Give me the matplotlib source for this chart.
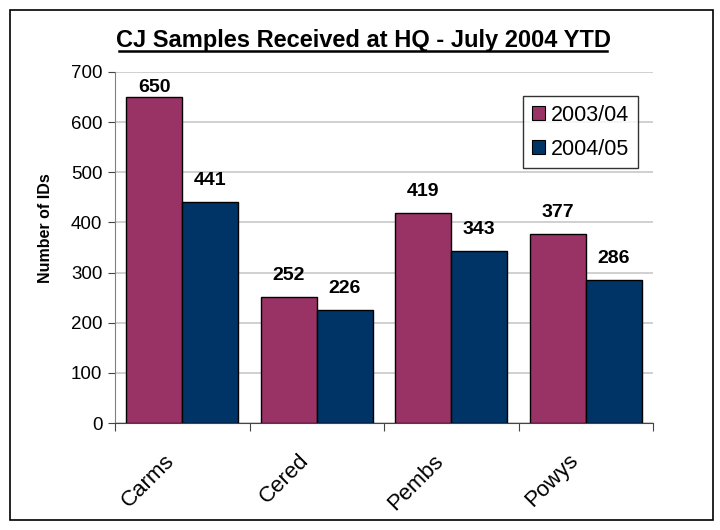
import matplotlib
matplotlib.use("Agg")
import matplotlib.pyplot as plt
from matplotlib.patches import Rectangle
import numpy as np

plt.rcParams['font.family'] = ['Liberation Sans', 'DejaVu Sans']

categories = ["Carms", "Cered", "Pembs", "Powys"]
series_names = ["2003/04", "2004/05"]
values_0304 = [650, 252, 419, 377]
values_0405 = [441, 226, 343, 286]
yticks = [0, 100, 200, 300, 400, 500, 600, 700]
colors = ["#993366", "#003366"]

W, H = 720, 530
fig = plt.figure(figsize=(7.2, 5.3), dpi=100)
fig.add_artist(Rectangle((10/W, 10/H), 703/W, 510/H, transform=fig.transFigure,
                         fill=False, edgecolor="black", linewidth=1.2))
L, R, T, B = 115, 653, 72, 423
ax = fig.add_axes([L/W, 1-B/H, (R-L)/W, (B-T)/H])

x = np.arange(len(categories))
w = 0.415
b1 = ax.bar(x - w/2, values_0304, w, color=colors[0], edgecolor="black", linewidth=1, label=series_names[0], zorder=3)
b2 = ax.bar(x + w/2, values_0405, w, color=colors[1], edgecolor="black", linewidth=1, label=series_names[1], zorder=3)
for bars in (b1, b2):
    for r in bars:
        v = r.get_height()
        ax.text(r.get_x() + r.get_width()/2, min(v + 34, 660), f"{int(v)}",
                ha="center", va="baseline", fontsize=14, fontweight="bold", zorder=4)

ax.set_xlim(-0.5, len(categories) - 0.5)
ax.set_ylim(0, 700)
ax.set_yticks(yticks)
ax.set_yticklabels([str(v) for v in yticks], fontsize=13.5)
ax.yaxis.grid(True, color="#c8c8c8", linewidth=1.2, zorder=0)
ax.set_xticks(np.arange(-0.5, len(categories), 1.0))
ax.set_xticklabels([])
ax.set_xticks(x - 0.08, minor=True)
ax.set_xticklabels(categories, minor=True, rotation=45, ha="right", va="center",
                   rotation_mode="anchor", fontsize=16)
ax.tick_params(axis="x", which="minor", length=0, pad=25)
ax.tick_params(axis="x", which="major", length=6, direction="out", color="#444444")
ax.tick_params(axis="y", length=5, direction="out", color="#444444", pad=4)
for s in ["top", "right"]:
    ax.spines[s].set_visible(False)
ax.spines["left"].set_color("#808080")
ax.spines["bottom"].set_color("#444444")
ax.set_ylabel("Number of IDs", fontsize=11.5, fontweight="bold")
ax.yaxis.set_label_coords(-(L-53)/(R-L), (B-228)/(B-T))

fig.text(363/W, 1-47/H, "CJ Samples Received at HQ - July 2004 YTD", ha="center", va="baseline",
         fontsize=17, fontweight="bold")
fig.add_artist(plt.Line2D([119/W, 607/W], [1-51/H, 1-51/H], color="black", linewidth=1.8))

leg = ax.legend(loc="upper left", bbox_to_anchor=((523-L)/(R-L), (B-96)/(B-T)),
                fontsize=15.5, frameon=True, fancybox=False, edgecolor="black",
                handlelength=0.6, handleheight=0.6, handletextpad=0.3, labelspacing=0.6,
                borderpad=0.4, borderaxespad=0)
leg.get_frame().set_linewidth(1)
for h in leg.legend_handles:
    h.set_edgecolor("black")
    h.set_linewidth(0.8)

fig.savefig("out.png", dpi=100)
